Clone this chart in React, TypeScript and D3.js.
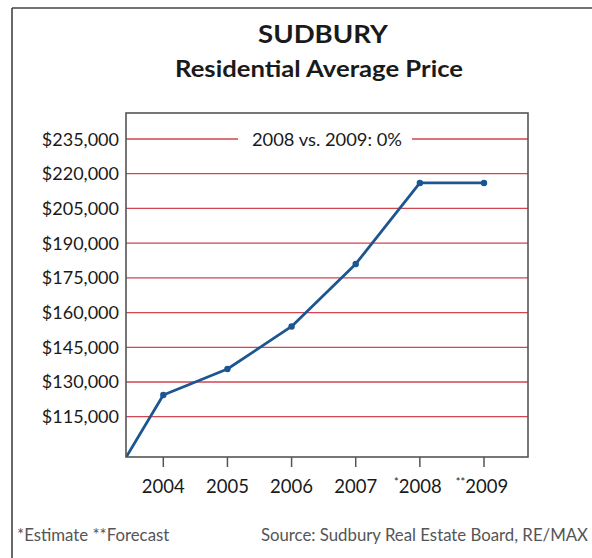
import React from "react";
import * as d3 from "d3";

const years = [2003, 2004, 2005, 2006, 2007, 2008, 2009];
const prices = [78000, 124400, 135600, 154000, 181000, 216000, 216000];
const tickYears = [2004, 2005, 2006, 2007, 2008, 2009];
const tickPrefixes = ["", "", "", "", "*", "**"];
const yTicks = [115000, 130000, 145000, 160000, 175000, 190000, 205000, 220000, 235000];

const title = "SUDBURY";
const subtitle = "Residential Average Price";
const annotation = "2008 vs. 2009: 0%";
const footLeft = "*Estimate **Forecast";
const footRight = "Source: Sudbury Real Estate Board, RE/MAX";

const W = 592;
const H = 558;
const plot = { left: 126, right: 528, top: 113, bottom: 457 };
const FONT = "Lato, 'Open Sans', sans-serif";

export default function App() {
  const x = d3.scaleLinear().domain([2004, 2009]).range([163.3, 484]);
  const y = d3.scaleLinear().domain([115000, 235000]).range([416.7, 139]);
  const line = d3
    .line<number>()
    .x((_, i) => x(years[i]))
    .y((d) => y(d));
  const fmt = (v: number) => "$" + d3.format(",")(v);

  return (
    <svg
      width={W}
      height={H}
      style={{ position: "absolute", left: 0, top: 0, background: "#fff" }}
      fontFamily={FONT}
    >
      <defs>
        <clipPath id="plotClip">
          <rect x={plot.left} y={plot.top} width={plot.right - plot.left} height={plot.bottom - plot.top} />
        </clipPath>
      </defs>
      {/* outer frame */}
      <line x1={12} x2={W} y1={8} y2={8} stroke="#444" strokeWidth={1.6} />
      <line x1={12} x2={12} y1={8} y2={H} stroke="#444" strokeWidth={1.6} />

      <text x={258} y={43} fontSize={24.5} fontWeight={700} fill="#1a1a1a" textLength={130} lengthAdjust="spacingAndGlyphs">
        {title}
      </text>
      <text x={175} y={77} fontSize={22.5} fontWeight={700} fill="#1a1a1a" textLength={288} lengthAdjust="spacingAndGlyphs">
        {subtitle}
      </text>

      {/* gridlines */}
      {yTicks.map((t) =>
        t === 235000 ? (
          <g key={t}>
            <line x1={plot.left} x2={238} y1={y(t)} y2={y(t)} stroke="#d2444e" strokeWidth={1.3} />
            <line x1={412} x2={plot.right} y1={y(t)} y2={y(t)} stroke="#d2444e" strokeWidth={1.3} />
          </g>
        ) : (
          <line key={t} x1={plot.left} x2={plot.right} y1={y(t)} y2={y(t)} stroke="#d2444e" strokeWidth={1.3} />
        )
      )}
      <text x={252} y={y(235000) + 7} fontSize={18} fill="#1a1a1a" textLength={150} lengthAdjust="spacingAndGlyphs">
        {annotation}
      </text>

      {/* y labels */}
      {yTicks.map((t) => (
        <text key={t} x={119} y={y(t) + 6.5} textAnchor="end" fontSize={18} fill="#1a1a1a">
          {fmt(t)}
        </text>
      ))}

      {/* data line */}
      <g clipPath="url(#plotClip)">
        <path d={line(prices) || ""} fill="none" stroke="#1c5690" strokeWidth={2.8} strokeLinejoin="round" />
        {prices.map((p, i) =>
          i === 0 ? null : <circle key={i} cx={x(years[i])} cy={y(p)} r={3.2} fill="#1c5690" />
        )}
      </g>

      {/* plot frame */}
      <rect
        x={plot.left}
        y={plot.top}
        width={plot.right - plot.left}
        height={plot.bottom - plot.top}
        fill="none"
        stroke="#555"
        strokeWidth={1.6}
      />

      {/* x ticks */}
      {tickYears.map((yr, i) => (
        <g key={yr}>
          <line x1={x(yr)} x2={x(yr)} y1={plot.bottom} y2={plot.bottom + 10} stroke="#555" strokeWidth={1.5} />
          <text x={x(yr)} y={493} textAnchor="middle" fontSize={18.5} fill="#1a1a1a">
            {tickPrefixes[i] ? (
              <tspan fontSize={11} dy={-7} dx={-2}>{tickPrefixes[i]}</tspan>
            ) : null}
            <tspan dy={tickPrefixes[i] ? 7 : 0}>{yr}</tspan>
          </text>
        </g>
      ))}

      <text x={17} y={541} fontSize={16.8} fill="#555">
        {footLeft}
      </text>
      <text x={588} y={541} textAnchor="end" fontSize={16.8} fill="#555">
        {footRight}
      </text>
    </svg>
  );
}
